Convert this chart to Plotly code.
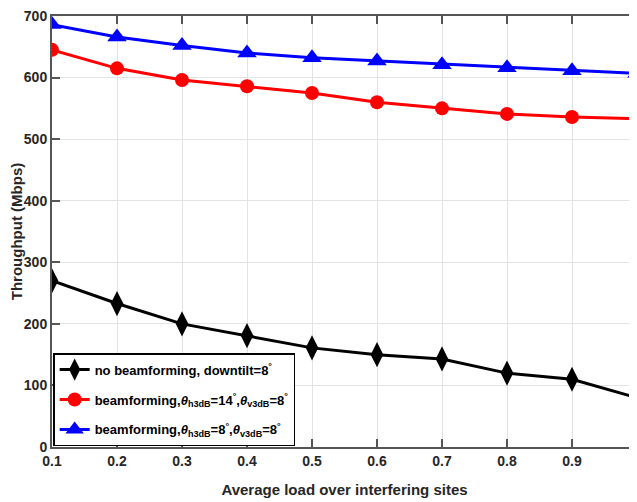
import plotly.graph_objects as go

load = [0.1, 0.2, 0.3, 0.4, 0.5, 0.6, 0.7, 0.8, 0.9, 1.0]
no_bf = [270, 233, 200, 181, 161, 150, 143, 120, 110, 80]
bf_14_8 = [645, 615, 596, 586, 575, 560, 550, 541, 536, 533]
bf_8_8 = [686, 666, 652, 640, 632, 627, 621, 616, 611, 607]
x_ticks = ["0.1", "0.2", "0.3", "0.4", "0.5", "0.6", "0.7", "0.8", "0.9", "1"]
y_ticks = [0, 100, 200, 300, 400, 500, 600, 700]

names = [
    "no beamforming, downtilt=8<sup>°</sup>",
    "beamforming,<i>θ</i><sub>h3dB</sub>=14<sup>°</sup>,<i>θ</i><sub>v3dB</sub>=8<sup>°</sup>",
    "beamforming,<i>θ</i><sub>h3dB</sub>=8<sup>°</sup>,<i>θ</i><sub>v3dB</sub>=8<sup>°</sup>",
]

FONT = "Liberation Sans, Arial"

fig = go.Figure()
fig.add_trace(go.Scatter(x=load, y=no_bf, mode="lines+markers", name="<b>" + names[0] + "</b>",
                         legendgroup="a",
                         line=dict(color="black", width=3),
                         marker=dict(symbol="diamond-tall", size=18, color="black")))
fig.add_trace(go.Scatter(x=load, y=bf_14_8, mode="lines+markers", name="<b>" + names[1] + "</b>",
                         legendgroup="b",
                         line=dict(color="red", width=3),
                         marker=dict(symbol="circle", size=14, color="red")))
fig.add_trace(go.Scatter(x=load, y=bf_8_8, mode="lines+markers", name="<b>" + names[2] + "</b>",
                         legendgroup="c",
                         line=dict(color="blue", width=3),
                         marker=dict(symbol="triangle-up", size=17, color="blue")))

axis_common = dict(showgrid=True, gridcolor="#e3e3e3", gridwidth=1,
                   showline=True, linecolor="#555555", linewidth=2, mirror="ticks",
                   ticks="inside", ticklen=8, tickcolor="#555555", tickwidth=1.5,
                   tickfont=dict(family=FONT, size=14, color="#262626"),
                   ticklabeloverflow="allow",
                   zeroline=False, automargin=False)

# the page adds an 8px body margin, so the figure is sized / offset to compensate
fig.update_layout(
    width=629, height=494,
    margin=dict(l=44, r=0, t=8, b=55),
    plot_bgcolor="white", paper_bgcolor="white",
    font=dict(family=FONT, color="#262626"),
    xaxis=dict(range=[0.1, 1.0], tickvals=load,
               ticktext=["<b>%s</b>" % t for t in x_ticks],
               title=dict(text="<b>Average load over interfering sites</b>",
                          font=dict(family=FONT, size=15, color="#262626"), standoff=17),
               **axis_common),
    yaxis=dict(range=[0, 700], tickvals=y_ticks,
               ticktext=["<b>%d</b>" % v for v in y_ticks],
               title=dict(text="<b>Throughput (Mbps)</b>",
                          font=dict(family=FONT, size=15, color="#262626"), standoff=4),
               **axis_common),
    legend=dict(x=0.002, y=0.002, xanchor="left", yanchor="bottom",
                bgcolor="white", bordercolor="black", borderwidth=1.5,
                font=dict(family=FONT, size=13, color="black"),
                traceorder="grouped", tracegroupgap=10, itemwidth=30),
)

fig.write_html("out.html")
